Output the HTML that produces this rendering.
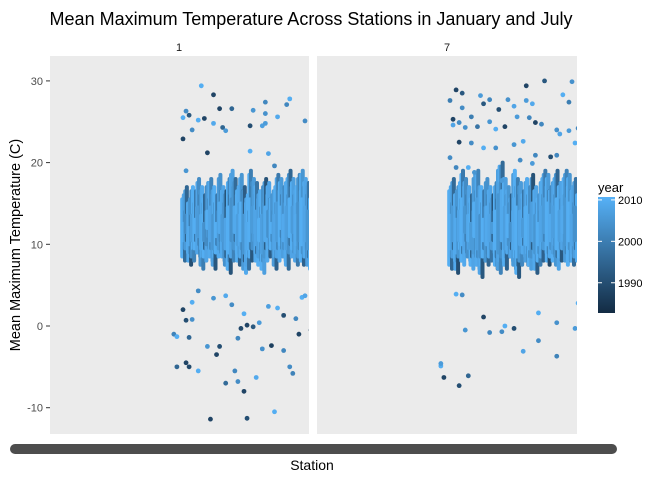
<!DOCTYPE html>
<html><head><meta charset="utf-8"><style>
body{margin:0;background:#fff;font-family:"Liberation Sans",sans-serif}
svg text{font-family:"Liberation Sans",sans-serif}
</style></head><body>
<svg id="c" width="672" height="480" xmlns="http://www.w3.org/2000/svg">
<defs>
<linearGradient id="yg" x1="0" y1="1" x2="0" y2="0"><stop offset="0" stop-color="#132B43"/><stop offset="1" stop-color="#56B1F7"/></linearGradient>
<clipPath id="cp1"><rect x="50" y="70" width="259" height="364"/></clipPath>
<clipPath id="cp2"><rect x="317" y="70" width="260" height="364"/></clipPath>
</defs>
<text x="311" y="25" font-size="18" text-anchor="middle" fill="#000">Mean Maximum Temperature Across Stations in January and July</text>
<rect x="50" y="56" width="259" height="378" fill="#EBEBEB"/>
<rect x="317" y="56" width="260" height="378" fill="#EBEBEB"/>
<rect x="50" y="38" width="259" height="18" fill="#fff"/>
<rect x="317" y="38" width="260" height="18" fill="#fff"/>
<text x="179" y="51" font-size="11" text-anchor="middle" fill="#1a1a1a">1</text>
<text x="447" y="51" font-size="11" text-anchor="middle" fill="#1a1a1a">7</text>
<g id="yticks"></g>
<g id="g1" clip-path="url(#cp1)"></g>
<g id="g2" clip-path="url(#cp2)"></g>
<text transform="translate(20,245) rotate(-90)" font-size="14.5" text-anchor="middle" fill="#000">Mean Maximum Temperature (C)</text>
<rect x="10" y="444" width="607" height="10" rx="5" fill="#4D4D4D"/>
<text x="312" y="470" font-size="14" text-anchor="middle" fill="#000">Station</text>
<text x="598" y="192" font-size="13" fill="#000">year</text>
<rect x="598" y="197" width="17" height="116" fill="url(#yg)"/>
<g id="leg"></g>
</svg>
<script>
const yTicks=[30,20,10,0,-10];
const legendYears=[2010,2000,1990];
const yearMin=1982.7, yearMax=2010.7;
// station band ranges (temperature), January
const janLow=[8,9,7.5,8,9,8.5,7,8,9.5,8,7,8.5,9,8,7,6.5,8,9,7.5,8,6.5,7,8,9,7.5,8,6.5,8,8.5,9,7,8,9.5,8,7,8.5,9,7.5,8,7.5,8,7];
const janHigh=[16,17,15.5,17,16.5,18,17,16,17.5,18,17,16,18.5,17,16.5,18,19,18,17,18.5,17,16,19,18,17.5,16.5,17,18,17.5,16,17,18.5,18,17,18,19,18,17,18.5,19,18,17.5];
const janYearA=[2008,1995,2005,2010,1999,2003,2009,1992,2006,2001,2010,1997,2004,2008,1990,2002,2007,1996,2009,2005,1993,2010,2000,2006,1998,2009,2003,1991,2008,2004,2010,1999,2006,2002,2009,1995,2007,2010,2001,2005,2008,1998];
const janYearB=[1996,2010,1990,2001,2009,1993,2000,2008,1994,2007,1992,2009,1995,1998,2010,1991,2001,2008,1994,1989,2009,1997,1992,2002,2010,1990,2007,2009,1993,2000,1994,2009,1989,2010,1996,2008,1992,1999,2010,1994,1996,2010];
const janYearC=[2010,2006,2009,2004,2010,2008,2005,2010,2003,2009,2007,2010,2006,2009,2004,2010,2008,2005,2010,2009,2006,2008,2010,2004,2009,2007,2010,2005,2009,2010,2006,2008,2010,2007,2009,2004,2010,2008,2006,2010,2009,2007];
const janOut=[[6,29.4,2010],[10,28.3,1988],[1,26.3,2003],[12,26.6,1988],[16,26.6,1995],[0,25.5,2010],[2,25.8,1992],[10,24.8,2009],[7,25.4,1988],[13,24.3,1995],[14,23.9,2006],[22,24.5,1990],[0,22.9,1988],[3,24.0,2003],[5,25.2,2010],[27,27.4,2002],[27,26.0,2004],[26,24.5,2007],[23,26.4,2005],[27,24.8,2006],[35,27.8,2010],[40,25.1,2003],[31,25.6,2009],[34,27.1,2002],
[8,21.2,1988],[22,21.4,2010],[28,21.1,2008],[1,19.0,2005],[30,19.6,2002],[3,2.9,2010],[5,4.3,2003],[0,2.0,1988],[1,0.7,1990],[3,0.8,2004],[10,3.4,2005],[14,3.7,2009],[16,2.6,2003],[20,1.5,2010],[19,-0.3,1989],[21,0.1,1988],[23,-0.1,1992],[25,0.4,2006],[28,2.4,2007],[31,2.2,2010],[33,1.3,1990],[37,0.9,2002],[39,3.5,2010],[-3,-1.0,2001],[-2,-1.3,2010],[2,-1.4,1995],[8,-2.5,2005],[12,-2.5,1990],[18,-1.5,2002],[26,-2.8,2004],[29,-2.4,1987],[33,-3.0,2002],[35,-5.0,2003],[36,-5.8,2001],[1,-4.5,1988],[2,-5.0,1989],[-2,-5.0,1995],[5,-5.5,2010],[17,-5.5,2002],[18,-6.8,2003],[20,-8.0,1988],[21,-11.3,1990],[9,-11.4,1988],[30,-10.5,2010],[14,-7.0,1996],[24,-6.3,2009],[11,-3.5,1988],[38,-1.0,1988],[40,3.7,2008],[42,-0.5,1988]];
// July
const julLow=[7,8,6.5,8,7.5,9,8,7,8.5,7,6,8,7.5,8,9,7,6.5,8,7,8.5,8,7,6,7.5,8.5,7.5,7,8,6.5,7.5,8,9,7.5,8,8.5,7,8,9,7.5,8,7.5,8];
const julHigh=[17,18,16.5,17.5,19,18,17,16,18.5,19,17,16.5,18,17,16,17.5,19.5,20,18,17,16,19,18,17.5,16.5,18,17,18.5,17,16,18,19,18.5,17,18,19,17.5,18,19,18.5,17,18];
const julYearA=[2009,1996,2005,2010,1999,2003,2008,1992,2006,2001,2010,1997,2004,2008,1990,2002,2009,1996,2007,2005,1993,2010,2000,2006,1998,2009,2003,1991,2008,2004,2010,1999,2006,2002,2009,1995,2007,2010,2001,2005,2008,1998];
const julYearB=[1995,2010,1990,2001,2009,1993,2000,2008,1994,2007,1992,2009,1995,1998,2010,1991,2001,2008,1994,1989,2009,1997,1992,2002,2010,1990,2007,2009,1993,2000,1994,2009,1989,2010,1996,2008,1992,1999,2010,1994,1996,2010];
const julYearC=[2010,2007,2009,2005,2010,2008,2004,2010,2006,2009,2008,2010,2005,2009,2006,2010,2007,2004,2010,2009,2008,2006,2010,2005,2009,2007,2010,2004,2009,2010,2008,2006,2010,2009,2007,2005,2010,2008,2006,2010,2009,2007];
const julOut=[[2,28.9,1988],[4,28.5,1992],[10,28.2,2006],[0,27.6,2000],[4,26.7,2003],[11,27.2,1992],[13,27.7,2002],[16,26.5,1990],[19,27.7,2004],[21,26.9,2008],[25,29.4,1988],[25,27.6,2006],[27,27.2,2009],[31,30.0,1992],[37,28.3,2010],[39,27.4,2000],[40,29.9,2004],[1,25.3,1988],[1,24.6,2008],[3,24.9,2003],[5,24.3,2004],[7,25.6,2000],[9,24.4,1998],[13,25.0,2005],[15,24.1,2010],[18,24.4,1988],[22,25.6,2006],[26,25.5,2002],[28,24.9,1988],[30,24.7,2002],[35,24.0,2004],[36,23.5,2008],[39,23.9,2006],[42,24.2,2002],[3,22.5,1988],[7,22.4,2003],[11,21.8,2010],[15,21.8,2004],[21,22.2,2005],[24,22.6,2009],[28,20.9,2002],[33,20.7,1990],[35,20.9,2002],[41,22.4,2010],[0,20.6,2003],[2,19.4,2002],[6,19.4,2010],[8,18.8,2005],[17,17.8,2006],[23,20.3,2003],[27,19.9,2006],[2,3.9,2010],[4,3.8,2003],[11,1.1,1988],[18,0.0,2010],[13,-0.8,2002],[21,-0.3,1990],[29,-1.8,2003],[29,1.6,2010],[35,0.4,2004],[35,-3.7,2001],[42,2.8,2010],[5,-0.5,2005],[-3,-4.9,2010],[-2,-6.3,1988],[3,-7.3,1990],[6,-6.1,1995],[-3,-4.6,2006],[24,-3.1,2008],[41,-0.3,2006],[17,-0.7,2003],[44,9.6,2009]];

const NS='http://www.w3.org/2000/svg';
const Y=v=>326-(v*8.17);
const X1=s=>183+s*3.05;
const X2=s=>450+s*3.05;
function col(y){const t=Math.max(0,Math.min(1,(y-yearMin)/(yearMax-yearMin)));
const a=[0x13,0x2B,0x43],b=[0x56,0xB1,0xF7];
return 'rgb('+a.map((v,i)=>Math.round(v+(b[i]-v)*t)).join(',')+')';}
const yt=document.getElementById('yticks');
yTicks.forEach(v=>{
const l=document.createElementNS(NS,'line');
l.setAttribute('x1',46);l.setAttribute('x2',50);l.setAttribute('y1',Y(v));l.setAttribute('y2',Y(v));l.setAttribute('stroke','#333');


yt.appendChild(l);
const t=document.createElementNS(NS,'text');
t.setAttribute('x',43);t.setAttribute('y',Y(v)+4);t.setAttribute('font-size','11');t.setAttribute('fill','#4D4D4D');t.setAttribute('text-anchor','end');
t.textContent=v;


yt.appendChild(t);});
function panel(g,X,low,high,ya,yb,yc,out,name){
low.forEach((lo,i)=>{
[[yc[i],-0.8,lo+0.5,high[i]-0.5],[ya[i],0.8,lo+1.5,high[i]],[yb[i],2,lo,high[i]-2],[yc[(i+7)%yc.length],-0.2,lo+2.5,high[i]-3.5]].forEach(([yr,dx,a,b])=>{
const l=document.createElementNS(NS,'line');
l.setAttribute('x1',X(i)+dx);l.setAttribute('x2',X(i)+dx);l.setAttribute('y1',Y(a));l.setAttribute('y2',Y(b));
l.setAttribute('stroke',col(yr));l.setAttribute('stroke-width','4');l.setAttribute('stroke-linecap','round');


g.appendChild(l);});});
out.forEach(([s,t,yr])=>{
const c=document.createElementNS(NS,'circle');
c.setAttribute('cx',X(s));c.setAttribute('cy',Y(t));c.setAttribute('r','2.4');c.setAttribute('fill',col(yr));


g.appendChild(c);});}
panel(document.getElementById('g1'),X1,janLow,janHigh,janYearA,janYearB,janYearC,janOut,'january');
panel(document.getElementById('g2'),X2,julLow,julHigh,julYearA,julYearB,julYearC,julOut,'july');
const lg=document.getElementById('leg');
legendYears.forEach(yr=>{
const yy=313-(yr-yearMin)/(yearMax-yearMin)*116;
const t=document.createElementNS(NS,'text');
t.setAttribute('x',618);t.setAttribute('y',yy+4);t.setAttribute('font-size','11');t.setAttribute('fill','#000');
t.textContent=yr;


lg.appendChild(t);
[598,611].forEach(x=>{const l=document.createElementNS(NS,'line');
l.setAttribute('x1',x);l.setAttribute('x2',x+4);l.setAttribute('y1',yy);l.setAttribute('y2',yy);l.setAttribute('stroke','#fff');


lg.appendChild(l);});});
</script>
</body></html>
